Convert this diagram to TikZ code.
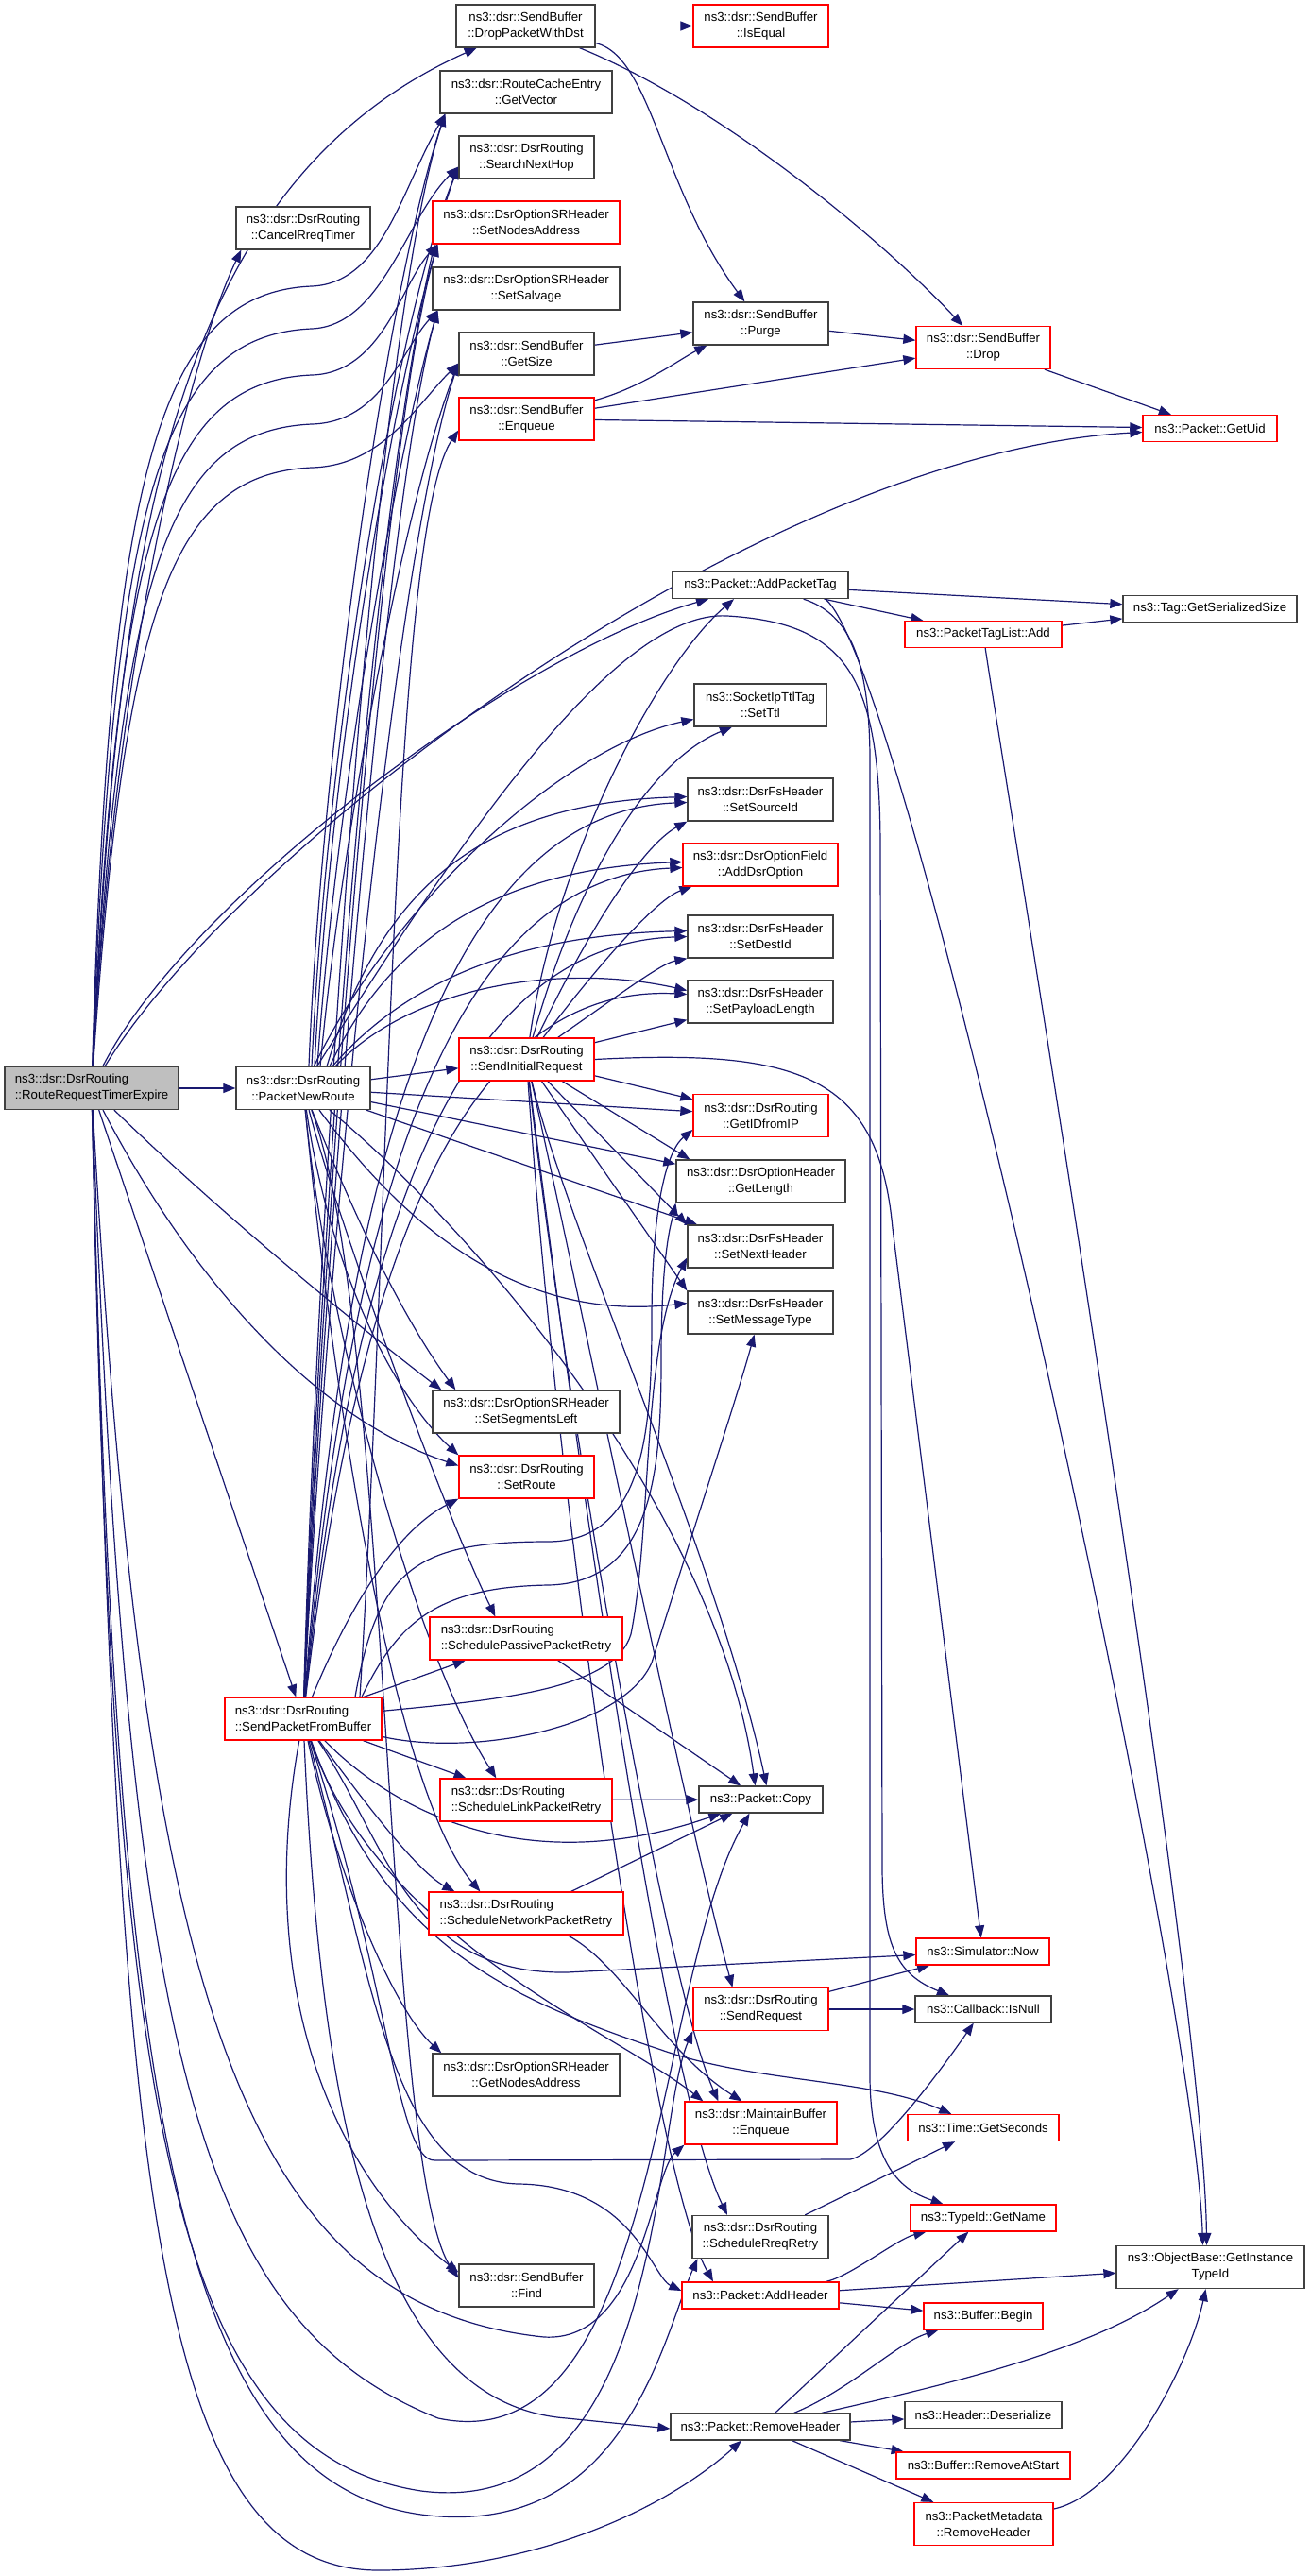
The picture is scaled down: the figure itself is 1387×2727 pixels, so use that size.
\documentclass[tikz,border=0pt]{standalone}
\usepackage{fontspec}
\setmainfont{Liberation Sans}
\usetikzlibrary{arrows.meta}
\definecolor{edgeblue}{HTML}{191970}
\definecolor{boxline}{HTML}{404040}
\definecolor{rootfill}{HTML}{BFBFBF}
\pgfdeclarelayer{edges}
\pgfsetlayers{edges,main}
\tikzset{
  fn/.style={draw=boxline, line width=1.3pt, fill=white, inner sep=0pt, minimum height=45pt, align=center, font=\fontsize{13.2}{17}\selectfont},
  fnred/.style={fn, draw=red},
  oneline/.style={minimum height=28pt},
  call/.style={draw=edgeblue, line width=1.2pt, -{Triangle[length=13pt,width=10pt]}},
}

\begin{document}
\begin{tikzpicture}[x=1pt,y=-1pt]
  \useasboundingbox (0,0) rectangle (1387,2727);
  % first column: the function itself
  \node[fn, fill=rootfill, align=left, minimum width=184pt] (rrte) at (97,1152) {ns3::dsr::DsrRouting\\::RouteRequestTimerExpire};
  % second column
  \node[fn, minimum width=142pt] (cancel) at (321,241.5) {ns3::dsr::DsrRouting\\::CancelRreqTimer};
  \node[fn, minimum width=142pt] (pnr) at (321,1152) {ns3::dsr::DsrRouting\\::PacketNewRoute};
  \node[fnred, align=left, minimum width=166pt] (spfb) at (321,1819.5) {ns3::dsr::DsrRouting\\::SendPacketFromBuffer};
  % third column
  \node[fn, minimum width=147pt] (dropdst) at (556.5,27.5) {ns3::dsr::SendBuffer\\::DropPacketWithDst};
  \node[fn, minimum width=182pt] (getvector) at (557,97.5) {ns3::dsr::RouteCacheEntry\\::GetVector};
  \node[fn, minimum width=143pt] (searchnexthop) at (557.5,166.5) {ns3::dsr::DsrRouting\\::SearchNextHop};
  \node[fnred, minimum width=198pt] (setnodesaddr) at (557,235.5) {ns3::dsr::DsrOptionSRHeader\\::SetNodesAddress};
  \node[fn, minimum width=198pt] (setsalvage) at (557,305.5) {ns3::dsr::DsrOptionSRHeader\\::SetSalvage};
  \node[fn, minimum width=143pt] (getsize) at (557.5,374.5) {ns3::dsr::SendBuffer\\::GetSize};
  \node[fnred, minimum width=143pt] (sbenqueue) at (557.5,443.5) {ns3::dsr::SendBuffer\\::Enqueue};
  \node[fnred, minimum width=143pt] (sendinitreq) at (557.5,1121.5) {ns3::dsr::DsrRouting\\::SendInitialRequest};
  \node[fn, minimum width=198pt] (setsegleft) at (557,1494.5) {ns3::dsr::DsrOptionSRHeader\\::SetSegmentsLeft};
  \node[fnred, minimum width=143pt] (setroute) at (557.5,1563.5) {ns3::dsr::DsrRouting\\::SetRoute};
  \node[fnred, align=left, minimum width=204pt] (passive) at (557,1734.5) {ns3::dsr::DsrRouting\\::SchedulePassivePacketRetry};
  \node[fnred, align=left, minimum width=182pt] (linkretry) at (557,1905.5) {ns3::dsr::DsrRouting\\::ScheduleLinkPacketRetry};
  \node[fnred, align=left, minimum width=206pt] (netretry) at (557,2025.5) {ns3::dsr::DsrRouting\\::ScheduleNetworkPacketRetry};
  \node[fn, minimum width=198pt] (getnodesaddr) at (557,2196.5) {ns3::dsr::DsrOptionSRHeader\\::GetNodesAddress};
  \node[fn, minimum width=143pt] (find) at (557.5,2419.5) {ns3::dsr::SendBuffer\\::Find};
  % fourth column
  \node[fnred, minimum width=143pt] (isequal) at (805.5,27.5) {ns3::dsr::SendBuffer\\::IsEqual};
  \node[fn, minimum width=143pt] (purge) at (805.5,342.5) {ns3::dsr::SendBuffer\\::Purge};
  \node[fn, oneline, minimum width=186pt] (addpackettag) at (805,619.5) {ns3::Packet::AddPacketTag};
  \node[fn, minimum width=140pt] (setttl) at (805,746.5) {ns3::SocketIpTtlTag\\::SetTtl};
  \node[fn, minimum width=154pt] (setsourceid) at (805,846.5) {ns3::dsr::DsrFsHeader\\::SetSourceId};
  \node[fnred, minimum width=164pt] (adddsroption) at (805,915.5) {ns3::dsr::DsrOptionField\\::AddDsrOption};
  \node[fn, minimum width=154pt] (setdestid) at (805,991.5) {ns3::dsr::DsrFsHeader\\::SetDestId};
  \node[fn, minimum width=154pt] (setpayloadlen) at (805,1060.5) {ns3::dsr::DsrFsHeader\\::SetPayloadLength};
  \node[fnred, minimum width=143pt] (getidfromip) at (805.5,1181) {ns3::dsr::DsrRouting\\::GetIDfromIP};
  \node[fn, minimum width=179pt] (getlength) at (805.5,1250.5) {ns3::dsr::DsrOptionHeader\\::GetLength};
  \node[fn, minimum width=154pt] (setnextheader) at (805,1319.5) {ns3::dsr::DsrFsHeader\\::SetNextHeader};
  \node[fn, minimum width=154pt] (setmsgtype) at (805,1389.5) {ns3::dsr::DsrFsHeader\\::SetMessageType};
  \node[fn, oneline, minimum width=131pt] (copy) at (805.5,1905) {ns3::Packet::Copy};
  \node[fnred, minimum width=143pt] (sendrequest) at (805.5,2127) {ns3::dsr::DsrRouting\\::SendRequest};
  \node[fnred, minimum width=161pt] (mbenqueue) at (805.5,2247.5) {ns3::dsr::MaintainBuffer\\::Enqueue};
  \node[fn, minimum width=144pt] (rreqretry) at (805,2368) {ns3::dsr::DsrRouting\\::ScheduleRreqRetry};
  \node[fnred, oneline, minimum width=166pt] (addheader) at (805,2430) {ns3::Packet::AddHeader};
  \node[fn, oneline, minimum width=190pt] (removeheader) at (805,2569) {ns3::Packet::RemoveHeader};
  % fifth column
  \node[fnred, minimum width=142pt] (drop) at (1041,368) {ns3::dsr::SendBuffer\\::Drop};
  \node[fnred, oneline, minimum width=166pt] (ptladd) at (1041,671.5) {ns3::PacketTagList::Add};
  \node[fnred, oneline, minimum width=141pt] (simnow) at (1040.5,2066) {ns3::Simulator::Now};
  \node[fn, oneline, minimum width=144pt] (isnull) at (1041,2127) {ns3::Callback::IsNull};
  \node[fnred, oneline, minimum width=160pt] (getseconds) at (1041,2252.5) {ns3::Time::GetSeconds};
  \node[fnred, oneline, minimum width=154pt] (getname) at (1041,2348) {ns3::TypeId::GetName};
  \node[fnred, oneline, minimum width=126pt] (bufbegin) at (1041,2452) {ns3::Buffer::Begin};
  \node[fn, oneline, minimum width=166pt] (deserialize) at (1041,2556.5) {ns3::Header::Deserialize};
  \node[fnred, oneline, minimum width=184pt] (removeatstart) at (1041,2610) {ns3::Buffer::RemoveAtStart};
  \node[fnred, minimum width=147pt] (pmremoveheader) at (1041.5,2672) {ns3::PacketMetadata\\::RemoveHeader};
  % sixth column
  \node[fnred, oneline, minimum width=142pt] (getuid) at (1281,453.5) {ns3::Packet::GetUid};
  \node[fn, oneline, minimum width=184pt] (tagsersize) at (1281,644.5) {ns3::Tag::GetSerializedSize};
  \node[fn, minimum width=199pt] (getinstance) at (1281.5,2400) {ns3::ObjectBase::GetInstance\\TypeId};

  \begin{pgfonlayer}{edges}
    % calls of RouteRequestTimerExpire, upwards
    \draw[call] (rrte) .. controls (125,600) and (170,200) .. (dropdst);
    \draw[call] (rrte) .. controls (122,700) and (200,380) .. ([xshift=6pt]cancel.south west);
    \draw[call] (rrte) .. controls (116,500) and (168,310) .. (330,303) .. controls (405,300) and (425,200) .. ([xshift=6pt]getvector.south west);
    \draw[call] (rrte) .. controls (120,520) and (172,355) .. (330,348) .. controls (405,345) and (430,230) .. ([yshift=-10pt]searchnexthop.west);
    \draw[call] (rrte) .. controls (124,560) and (175,404) .. (330,397) .. controls (405,395) and (425,300) .. ([xshift=6pt]setnodesaddr.south west);
    \draw[call] (rrte) .. controls (128,600) and (178,456) .. (330,449) .. controls (405,447) and (425,370) .. ([xshift=6pt]setsalvage.south west);
    \draw[call] (rrte) .. controls (132,640) and (182,502) .. (330,495) .. controls (405,493) and (440,430) .. ([yshift=-10pt]getsize.west);
    \draw[call] (rrte) .. controls (250,900) and (800,480) .. (getuid);
    \draw[call] (rrte) .. controls (200,950) and (550,690) .. ([xshift=-55pt]addpackettag.south);
    \draw[call] (rrte) -- (pnr);
    % calls of RouteRequestTimerExpire, downwards
    \draw[call] (rrte) .. controls (250,1300) and (400,1420) .. ([xshift=10pt]setsegleft.north west);
    \draw[call] (rrte) .. controls (200,1350) and (330,1500) .. ([yshift=12pt]setroute.west);
    \draw[call] (rrte) -- (spfb);
    \draw[call] (rrte) .. controls (125,2300) and (160,2720) .. (400,2721) .. controls (560,2721) and (700,2660) .. ([xshift=-20pt]removeheader.south);
    \draw[call] (rrte) .. controls (122,2200) and (180,2625) .. (446,2662) .. controls (660,2690) and (700,2480) .. ([xshift=6pt]rreqretry.south west);
    \draw[call] (rrte) .. controls (119,2200) and (170,2595) .. (446,2637) .. controls (705,2670) and (690,2250) .. (sendrequest.south west);
    \draw[call] (rrte) .. controls (135,2150) and (200,2455) .. (464,2560) .. controls (700,2610) and (690,2100) .. ([xshift=-12pt]copy.south);
    \draw[call] (rrte) .. controls (150,2100) and (250,2440) .. (576,2474) .. controls (680,2480) and (690,2300) .. (mbenqueue.south west);
    % calls of PacketNewRoute
    \draw[call] ([xshift=6pt]pnr.north) .. controls (340,800) and (410,300) .. ([xshift=6pt]getvector.south west);
    \draw[call] ([xshift=9pt]pnr.north) .. controls (345,800) and (415,350) .. ([yshift=-10pt]searchnexthop.west);
    \draw[call] ([xshift=12pt]pnr.north) .. controls (350,800) and (415,420) .. ([xshift=6pt]setnodesaddr.south west);
    \draw[call] ([xshift=15pt]pnr.north) .. controls (355,850) and (420,480) .. ([xshift=6pt]setsalvage.south west);
    \draw[call] ([xshift=18pt]pnr.north) .. controls (360,900) and (425,540) .. ([yshift=-10pt]getsize.west);
    \draw[call] (pnr) -- (sendinitreq);
    \draw[call] (pnr) .. controls (420,950) and (600,790) .. (setttl);
    \draw[call] ([xshift=25pt]pnr.north) .. controls (400,950) and (500,850) .. ([yshift=3pt]setsourceid.west);
    \draw[call] ([xshift=28pt]pnr.north) .. controls (410,1000) and (520,920) .. ([yshift=3pt]adddsroption.west);
    \draw[call] ([xshift=31pt]pnr.north) .. controls (420,1050) and (530,990) .. ([yshift=6pt]setdestid.west);
    \draw[call] ([xshift=34pt]pnr.north) .. controls (440,1040) and (600,1020) .. ([yshift=12pt]setpayloadlen.west);
    \draw[call] (pnr) -- (getidfromip);
    \draw[call] (pnr) -- (getlength);
    \draw[call] (pnr) -- (setnextheader);
    \draw[call] (pnr) .. controls (430,1300) and (550,1400) .. ([yshift=10pt]setmsgtype.west);
    \draw[call] (pnr) .. controls (380,1300) and (430,1400) .. ([xshift=25pt]setsegleft.north west);
    \draw[call] (pnr) .. controls (350,1350) and (420,1480) .. (setroute.north west);
    \draw[call] (pnr) .. controls (360,1300) and (470,1600) .. ([xshift=70pt]passive.north west);
    \draw[call] (pnr) .. controls (345,1400) and (440,1750) .. ([xshift=60pt]linkretry.north west);
    \draw[call] (pnr) .. controls (355,1500) and (420,1900) .. ([xshift=55pt]netretry.north west);
    \draw[call] (pnr) .. controls (500,1300) and (760,1600) .. ([xshift=-6pt]copy.north);
    \draw[call] (pnr) .. controls (415,1400) and (405,2300) .. ([yshift=8pt]find.west);
    \draw[call] (pnr) .. controls (480,900) and (650,645) .. (770,652) .. controls (900,660) and (932,720) .. (932,900) -- (934,1980) .. controls (935,2060) and (950,2090) .. (isnull);
    % calls of SendPacketFromBuffer
    \draw[call] (spfb) .. controls (335,1300) and (395,350) .. ([xshift=6pt]getvector.south west);
    \draw[call] (spfb) .. controls (338,1300) and (400,400) .. ([yshift=-10pt]searchnexthop.west);
    \draw[call] (spfb) .. controls (341,1300) and (405,460) .. ([xshift=6pt]setnodesaddr.south west);
    \draw[call] (spfb) .. controls (344,1300) and (410,520) .. ([xshift=6pt]setsalvage.south west);
    \draw[call] (spfb) .. controls (347,1300) and (420,580) .. ([yshift=-10pt]getsize.west);
    \draw[call] ([xshift=60pt]spfb.north) .. controls (412,1300) and (415,560) .. ([yshift=-12pt]sbenqueue.west);
    \draw[call] (spfb) .. controls (360,1300) and (450,860) .. ([yshift=-3pt]setsourceid.west);
    \draw[call] (spfb) .. controls (365,1320) and (460,930) .. ([yshift=-3pt]adddsroption.west);
    \draw[call] (spfb) .. controls (370,1340) and (470,1000) .. (setdestid.west);
    \draw[call] (spfb) .. controls (375,1360) and (480,1040) .. ([yshift=8pt]setpayloadlen.west);
    \draw[call] ([xshift=55pt]spfb.north) .. controls (400,1660) and (440,1632) .. (580,1632) .. controls (680,1632) and (690,1520) .. (690,1400) .. controls (690,1260) and (710,1215) .. ([yshift=-15pt]getidfromip.west);
    \draw[call] ([xshift=62pt]spfb.north) .. controls (420,1720) and (460,1680) .. (580,1678) .. controls (690,1676) and (700,1560) .. (700,1440) .. controls (700,1320) and (712,1290) .. (getlength.south west);
    \draw[call] (spfb) .. controls (520,1800) and (650,1790) .. (668,1730) .. controls (690,1620) and (680,1420) .. ([yshift=-12pt]setnextheader.west);
    \draw[call] (spfb) .. controls (500,1860) and (660,1830) .. (690,1760) .. controls (740,1600) and (780,1480) .. (setmsgtype);
    \draw[call] (spfb) .. controls (370,1700) and (420,1620) .. (setroute.south west);
    \draw[call] (spfb) -- (passive);
    \draw[call] (spfb) -- (linkretry);
    \draw[call] (spfb) .. controls (380,1900) and (440,1980) .. ([xshift=28pt]netretry.north west);
    \draw[call] (spfb) .. controls (420,1920) and (560,1990) .. (copy);
    \draw[call] (spfb) .. controls (360,2000) and (420,2130) .. ([xshift=10pt]getnodesaddr.north west);
    \draw[call] (spfb) .. controls (270,2100) and (350,2300) .. ([yshift=14pt]find.west);
    \draw[call] (spfb) .. controls (410,1950) and (430,2090) .. (600,2088) -- (simnow);
    \draw[call] (spfb) .. controls (412,2100) and (420,2287) .. (460,2287) -- (900,2286) .. controls (930,2280) and (990,2200) .. (isnull);
    \draw[call] (spfb) .. controls (405,2050) and (520,2110) .. (700,2170) .. controls (800,2205) and (920,2200) .. (getseconds);
    \draw[call] (spfb) .. controls (400,2050) and (650,2150) .. ([xshift=20pt]mbenqueue.north west);
    \draw[call] (spfb) .. controls (395,2100) and (415,2310) .. (550,2312) .. controls (670,2314) and (690,2410) .. ([yshift=5pt]addheader.west);
    \draw[call] (spfb) .. controls (340,2250) and (400,2545) .. (600,2560) -- ([yshift=-2pt]removeheader.west);
    % calls of SendInitialRequest
    \draw[call] (sendinitreq) .. controls (590,900) and (700,700) .. ([xshift=-28pt]addpackettag.south);
    \draw[call] (sendinitreq) .. controls (620,900) and (700,800) .. ([xshift=-30pt]setttl.south);
    \draw[call] (sendinitreq) .. controls (640,950) and (690,890) .. (setsourceid.south west);
    \draw[call] (sendinitreq) .. controls (650,1000) and (700,950) .. ([xshift=10pt]adddsroption.south west);
    \draw[call] (sendinitreq) .. controls (660,1050) and (700,1020) .. (setdestid.south west);
    \draw[call] (sendinitreq) -- (setpayloadlen);
    \draw[call] (sendinitreq) -- (getidfromip);
    \draw[call] (sendinitreq) -- ([xshift=15pt]getlength.north west);
    \draw[call] (sendinitreq) -- (setnextheader.north west);
    \draw[call] (sendinitreq) -- (setmsgtype.north west);
    \draw[call] (sendinitreq) .. controls (600,1300) and (760,1650) .. ([xshift=6pt]copy.north);
    \draw[call] (sendinitreq.east) .. controls (850,1110) and (930,1140) .. (945,1300) -- (simnow);
    \draw[call] (sendinitreq) .. controls (620,1400) and (720,1900) .. ([xshift=-30pt]sendrequest.north);
    \draw[call] (sendinitreq) .. controls (605,1500) and (700,2200) .. ([xshift=-35pt]rreqretry.north);
    \draw[call] (sendinitreq) .. controls (600,1500) and (705,2100) .. ([xshift=-45pt]mbenqueue.north);
    \draw[call] (sendinitreq) .. controls (590,1600) and (690,2300) .. ([xshift=-50pt]addheader.north);
    % the retry functions
    \draw[call] (passive) -- (copy);
    \draw[call] (linkretry) -- (copy);
    \draw[call] (netretry) -- (copy);
    \draw[call] (netretry) .. controls (660,2080) and (700,2170) .. ([xshift=-20pt]mbenqueue.north);
    \draw[call] (rreqretry) -- (getseconds);
    \draw[call] (sendrequest) -- (simnow);
    \draw[call] (sendrequest) -- (isnull);
    % send buffer
    \draw[call] (dropdst) -- (isequal);
    \draw[call] (dropdst) .. controls (690,60) and (700,200) .. (purge);
    \draw[call] (dropdst) .. controls (760,110) and (930,250) .. (drop);
    \draw[call] (getsize) -- (purge);
    \draw[call] (sbenqueue) .. controls (680,410) and (720,380) .. ([xshift=15pt]purge.south west);
    \draw[call] (sbenqueue) -- (drop);
    \draw[call] (sbenqueue) -- (getuid);
    \draw[call] (purge) -- (drop);
    \draw[call] (drop) -- (getuid);
    % packet tags
    \draw[call] (addpackettag) -- (tagsersize);
    \draw[call] (addpackettag) -- ([xshift=20pt]ptladd.north west);
    \draw[call] (ptladd) -- (tagsersize);
    \draw[call] ([xshift=-25pt]addpackettag.south east) .. controls (960,700) and (1265,2100) .. ([xshift=-8pt]getinstance.north);
    \draw[call] (ptladd) .. controls (1060,800) and (1275,2100) .. ([xshift=-4pt]getinstance.north);
    \draw[call] (addpackettag) .. controls (900,650) and (920,700) .. (921,800) -- (921,2200) .. controls (922,2300) and (960,2320) .. (getname);
    % headers
    \draw[call] (addheader) .. controls (900,2410) and (950,2370) .. (getname);
    \draw[call] (addheader) -- (getinstance);
    \draw[call] (addheader) -- (bufbegin);
    \draw[call] (removeheader) -- (getname);
    \draw[call] (removeheader) .. controls (900,2530) and (950,2480) .. (bufbegin);
    \draw[call] (removeheader) .. controls (1000,2525) and (1150,2490) .. (getinstance);
    \draw[call] (removeheader) -- (deserialize);
    \draw[call] (removeheader) -- (removeatstart);
    \draw[call] (removeheader) -- (pmremoveheader);
    \draw[call] (pmremoveheader) .. controls (1190,2640) and (1260,2500) .. (getinstance);
  \end{pgfonlayer}
\end{tikzpicture}
\end{document}
